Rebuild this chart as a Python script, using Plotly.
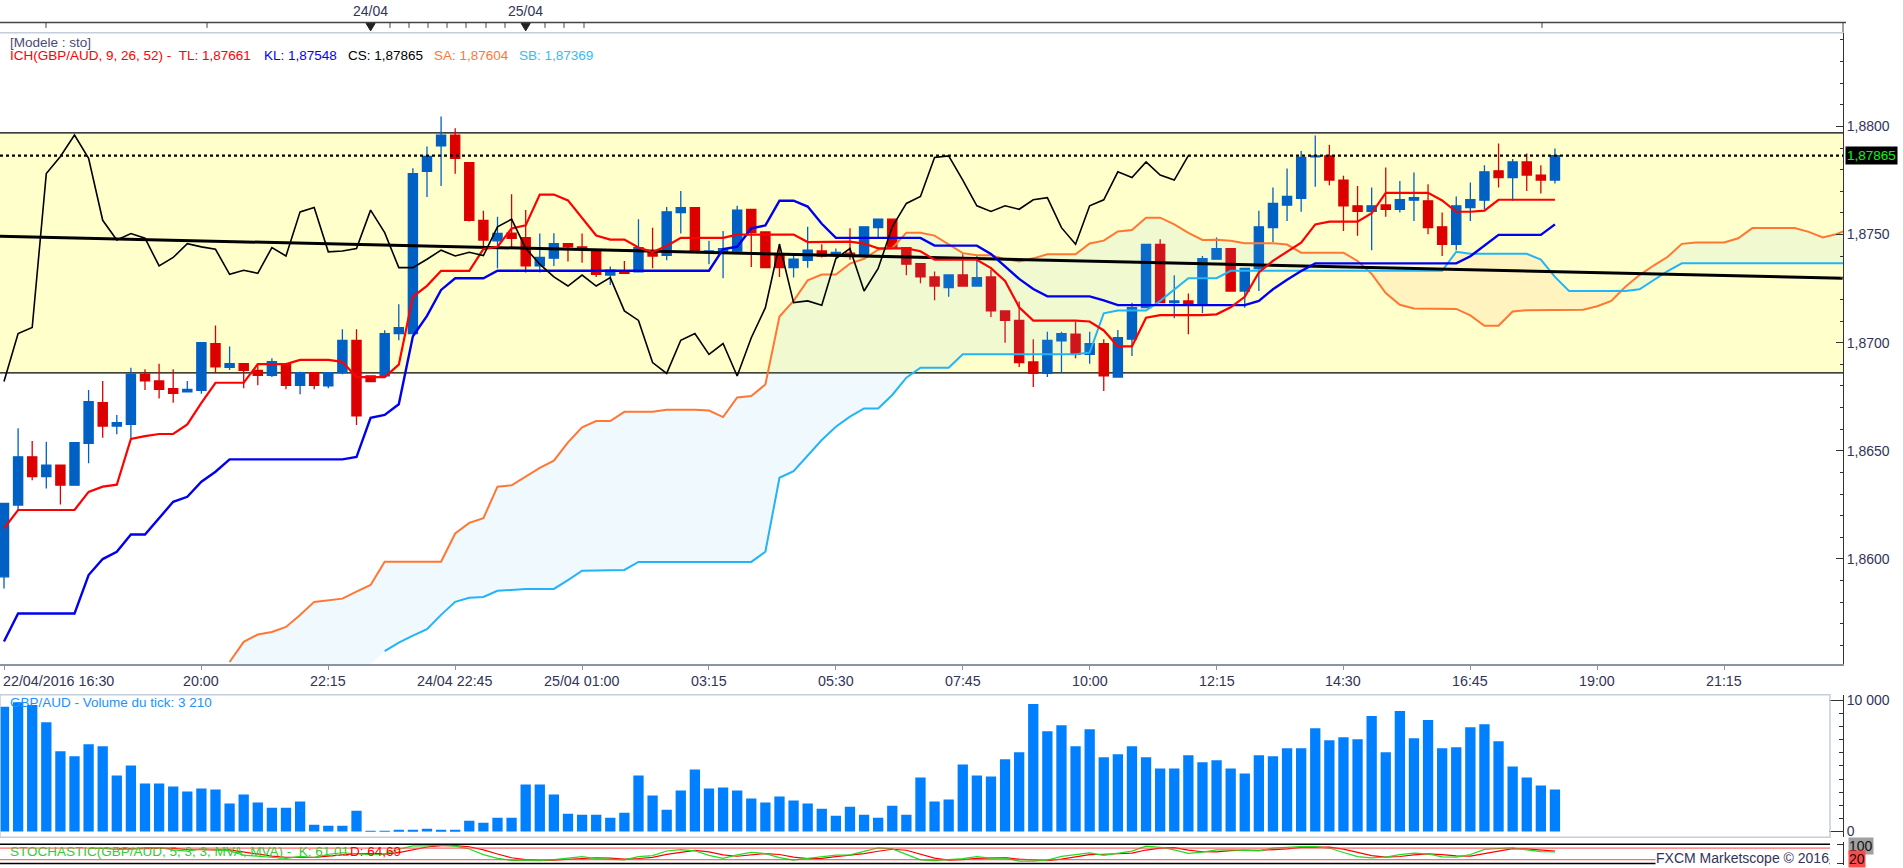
import plotly.graph_objects as go

W, H = 1903, 868

# ---------------- data ----------------
open_ = [1.85917, 1.86249, 1.86472, 1.86380, 1.86434, 1.86341, 1.86534, 1.86722, 1.86614, 1.86622,
         1.86854, 1.86823, 1.86787, 1.86772, 1.86780, 1.86996, 1.86886, 1.86903, 1.86872, 1.86849,
         1.86903, 1.86803, 1.86861, 1.86800, 1.86861, 1.87011, 1.86846, 1.86846, 1.87042, 1.87042,
         1.87792, 1.87910, 1.87960, 1.87833, 1.87566, 1.87471, 1.87506, 1.87486, 1.87355, 1.87391,
         1.87458, 1.87443, 1.87428, 1.87313, 1.87332, 1.87327, 1.87420, 1.87404, 1.87602, 1.87625,
         1.87417, 1.87420, 1.87424, 1.87616, 1.87512, 1.87409, 1.87347, 1.87381, 1.87424, 1.87412,
         1.87414, 1.87401, 1.87532, 1.87571, 1.87440, 1.87366, 1.87304, 1.87255, 1.87313, 1.87262,
         1.87304, 1.87147, 1.87103, 1.86911, 1.86858, 1.87008, 1.87039, 1.86946, 1.86996, 1.86841,
         1.87016, 1.87162, 1.87455, 1.87185, 1.87193, 1.87173, 1.87386, 1.87435, 1.87239, 1.87343,
         1.87532, 1.87636, 1.87667, 1.87860, 1.87864, 1.87752, 1.87633, 1.87607, 1.87637, 1.87617,
         1.87659, 1.87656, 1.87536, 1.87455, 1.87625, 1.87659, 1.87795, 1.87764, 1.87836, 1.87775,
         1.87752]
high_ = [1.86256, 1.86604, 1.86545, 1.86542, 1.86434, 1.86537, 1.86781, 1.86823, 1.86665, 1.86884,
         1.86877, 1.86903, 1.86877, 1.86823, 1.87000, 1.87079, 1.86982, 1.86903, 1.86897, 1.86928,
         1.86903, 1.86866, 1.86861, 1.86861, 1.87062, 1.87062, 1.86846, 1.87057, 1.87178, 1.87807,
         1.87907, 1.88046, 1.87992, 1.87833, 1.87610, 1.87582, 1.87687, 1.87614, 1.87505, 1.87506,
         1.87458, 1.87505, 1.87428, 1.87352, 1.87378, 1.87571, 1.87532, 1.87628, 1.87702, 1.87625,
         1.87471, 1.87517, 1.87633, 1.87616, 1.87512, 1.87458, 1.87409, 1.87536, 1.87455, 1.87435,
         1.87529, 1.87536, 1.87571, 1.87571, 1.87440, 1.87366, 1.87329, 1.87313, 1.87409, 1.87401,
         1.87337, 1.87147, 1.87190, 1.87016, 1.87051, 1.87051, 1.87097, 1.87051, 1.87016, 1.87059,
         1.87185, 1.87455, 1.87478, 1.87312, 1.87227, 1.87401, 1.87486, 1.87435, 1.87343, 1.87610,
         1.87718, 1.87806, 1.87887, 1.87958, 1.87915, 1.87772, 1.87725, 1.87718, 1.87810, 1.87748,
         1.87787, 1.87733, 1.87602, 1.87676, 1.87741, 1.87821, 1.87921, 1.87849, 1.87875, 1.87821,
         1.87898]
low_ = [1.85863, 1.86226, 1.86364, 1.86326, 1.86252, 1.86341, 1.86442, 1.86560, 1.86576, 1.86550,
        1.86781, 1.86742, 1.86722, 1.86769, 1.86764, 1.86858, 1.86874, 1.86789, 1.86803, 1.86841,
        1.86784, 1.86761, 1.86784, 1.86789, 1.86854, 1.86619, 1.86820, 1.86841, 1.87011, 1.87039,
        1.87674, 1.87725, 1.87781, 1.87560, 1.87440, 1.87344, 1.87440, 1.87324, 1.87324, 1.87355,
        1.87375, 1.87370, 1.87304, 1.87267, 1.87321, 1.87327, 1.87344, 1.87381, 1.87505, 1.87420,
        1.87363, 1.87298, 1.87421, 1.87350, 1.87344, 1.87304, 1.87301, 1.87347, 1.87394, 1.87394,
        1.87383, 1.87401, 1.87486, 1.87437, 1.87312, 1.87275, 1.87196, 1.87212, 1.87262, 1.87262,
        1.87119, 1.87000, 1.86888, 1.86795, 1.86841, 1.86858, 1.86928, 1.86903, 1.86776, 1.86841,
        1.86938, 1.87159, 1.87185, 1.87113, 1.87039, 1.87136, 1.87386, 1.87239, 1.87162, 1.87239,
        1.87466, 1.87563, 1.87605, 1.87721, 1.87728, 1.87517, 1.87494, 1.87428, 1.87582, 1.87602,
        1.87563, 1.87502, 1.87401, 1.87428, 1.87563, 1.87617, 1.87718, 1.87656, 1.87702, 1.87690,
        1.87736]
close_ = [1.86256, 1.86472, 1.86380, 1.86434, 1.86341, 1.86537, 1.86727, 1.86614, 1.86630, 1.86854,
          1.86823, 1.86784, 1.86766, 1.86784, 1.87000, 1.86888, 1.86903, 1.86872, 1.86849, 1.86912,
          1.86803, 1.86861, 1.86803, 1.86861, 1.87011, 1.86661, 1.86820, 1.87042, 1.87070, 1.87782,
          1.87861, 1.87960, 1.87853, 1.87566, 1.87475, 1.87505, 1.87483, 1.87355, 1.87394, 1.87458,
          1.87443, 1.87432, 1.87316, 1.87335, 1.87321, 1.87440, 1.87401, 1.87605, 1.87625, 1.87420,
          1.87424, 1.87435, 1.87613, 1.87509, 1.87347, 1.87347, 1.87386, 1.87428, 1.87401, 1.87418,
          1.87403, 1.87536, 1.87571, 1.87437, 1.87363, 1.87304, 1.87262, 1.87313, 1.87262, 1.87301,
          1.87147, 1.87103, 1.86908, 1.86858, 1.87011, 1.87042, 1.86946, 1.86996, 1.86846, 1.87023,
          1.87162, 1.87455, 1.87185, 1.87193, 1.87173, 1.87389, 1.87435, 1.87239, 1.87343, 1.87536,
          1.87644, 1.87676, 1.87857, 1.87864, 1.87752, 1.87633, 1.87607, 1.87633, 1.87617, 1.87661,
          1.87671, 1.87532, 1.87455, 1.87633, 1.87661, 1.87790, 1.87764, 1.87836, 1.87775, 1.87752,
          1.87865]
tick_volume = [9523, 9856, 9651, 8346, 6118, 5734, 6656, 6502, 4275, 5043,
               3661, 3661, 3430, 3046, 3277, 3200, 2125, 2816, 2202, 1818,
               1818, 2278, 512, 435, 435, 1587, 50, 50, 80, 80,
               205, 60, 60, 819, 666, 1050, 1050, 3584, 3584, 2816,
               1357, 1280, 1280, 1050, 1434, 4275, 2739, 1664, 3123, 4736,
               3277, 3354, 3123, 2509, 2202, 2662, 2355, 2125, 1741, 1203,
               1894, 1280, 1050, 1971, 1280, 4122, 2278, 2432, 5120, 4275,
               4198, 5504, 6042, 9728, 7654, 8115, 6502, 7808, 5658, 5888,
               6502, 5658, 4813, 4813, 5811, 5274, 5427, 4813, 4429, 5811,
               5734, 6349, 6349, 7885, 6963, 7194, 7040, 8806, 6042, 9190,
               7117, 8499, 6349, 6426, 7962, 8192, 6886, 4966, 4122, 3507,
               3210]

# Ichimoku values whose look-back window starts before the visible data
tenkan_first = [1.86141, 1.86226, 1.86226, 1.86226, 1.86226, 1.86226, 1.86310, 1.86334]          # idx 0..7
kijun_first = [1.85618, 1.85747, 1.85747, 1.85747, 1.85747, 1.85747, 1.85925, 1.85999, 1.86033,
               1.86113, 1.86113, 1.86187, 1.86264, 1.86287, 1.86357, 1.86403, 1.86460, 1.86460,
               1.86460, 1.86460, 1.86460, 1.86460, 1.86460, 1.86460, 1.86460]                     # idx 0..24
senkou_a_first = [1.85523, 1.85616, 1.85650, 1.85662, 1.85685, 1.85740, 1.85801, 1.85809,
                  1.85816, 1.85848]                                                               # idx 16..25
senkou_b_first = [1.85573, 1.85613, 1.85645, 1.85675, 1.85741, 1.85801, 1.85820, 1.85824, 1.85852, 1.85858,
                  1.85861, 1.85861, 1.85861, 1.85902, 1.85945, 1.85946, 1.85948, 1.85949, 1.85986, 1.85986,
                  1.85986, 1.85986, 1.85986, 1.85986, 1.85986, 1.85986, 1.85986, 1.86033, 1.86375, 1.86406,
                  1.86480, 1.86550, 1.86611, 1.86658, 1.86696, 1.86696, 1.86758, 1.86838, 1.86884, 1.86884,
                  1.86884, 1.86946, 1.86946, 1.86946, 1.86946, 1.86946, 1.86946, 1.86946, 1.86946, 1.86946]  # idx 27..76
SA_FIRST_IDX, SB_FIRST_IDX = 16, 27

trend_x = [-0.3, 130.4]
trend_y = [1.87492, 1.87298]
zone_top, zone_bottom = 1.8797, 1.8686
last_price = 1.87865

time_tick_idx = [0, 14, 23, 32, 41, 50, 59, 68, 77, 86, 95, 104, 113, 122]
time_tick_text = ["22/04/2016 16:30", "20:00", "22:15", "24/04 22:45", "25/04 01:00", "03:15", "05:30",
                  "07:45", "10:00", "12:15", "14:30", "16:45", "19:00", "21:15"]
day_idx = [26, 37]
day_text = ["24/04", "25/04"]

legend_texts = ["ICH(GBP/AUD, 9, 26, 52) -\u00a0\u00a0TL: 1,87661", "KL: 1,87548", "CS: 1,87865",
                "SA: 1,87604", "SB: 1,87369"]
volume_title = "GBP/AUD - Volume du tick: 3 210"
stoch_k_text = "STOCHASTIC(GBP/AUD, 5, 3, 3, MVA, MVA) -\u00a0\u00a0K: 61,01"
stoch_d_text = "D: 64,69"

# ---------------- indicator computation ----------------
n = len(close_)
SHIFT = 26


def midpoint(i, period):
    lo = i - period + 1
    return (max(high_[lo:i + 1]) + min(low_[lo:i + 1])) / 2


tenkan = [tenkan_first[i] if i < 8 else midpoint(i, 9) for i in range(n)]
kijun = [kijun_first[i] if i < 25 else midpoint(i, 26) for i in range(n)]
sa_x = list(range(SA_FIRST_IDX, n + SHIFT))
senkou_a = senkou_a_first + [(tenkan[j - SHIFT] + kijun[j - SHIFT]) / 2 for j in range(SHIFT, n + SHIFT)]
sb_x = list(range(SB_FIRST_IDX, n + SHIFT))
senkou_b = senkou_b_first + [midpoint(j - SHIFT, 52) for j in range(77, n + SHIFT)]
cs_x = list(range(0, n - SHIFT))
chikou = close_[SHIFT:]

raw = [None] * n
for i in range(4, n):
    hh, ll = max(high_[i - 4:i + 1]), min(low_[i - 4:i + 1])
    raw[i] = 100 * (close_[i] - ll) / (hh - ll)
stoch_k = [None] * n
for i in range(6, n):
    stoch_k[i] = sum(raw[i - 2:i + 1]) / 3
stoch_d = [None] * n
for i in range(8, n):
    stoch_d[i] = sum(stoch_k[i - 2:i + 1]) / 3

# ---------------- layout helpers ----------------
X_LO, X_HI = -0.284, 130.43
Y_LO, Y_HI = 1.85514, 1.88433
XD = 1843 / W


def px(x):
    return x / W


def py(y):
    return 1 - y / H


idx = list(range(n))
fig = go.Figure()

# cloud fills
sb_map = dict(zip(sb_x, senkou_b))
base = [sb_map.get(j, Y_LO) for j in sa_x]
bull_top = [max(a, b) for a, b in zip(senkou_a, base)]
bear_top = [max(a, sb_map[j]) if j in sb_map else a for a, j in zip(senkou_a, sa_x)]
fig.add_trace(go.Scatter(x=sa_x, y=base, mode="lines", line=dict(width=0), hoverinfo="skip"))
fig.add_trace(go.Scatter(x=sa_x, y=bull_top, mode="lines", line=dict(width=0), fill="tonexty",
                         fillcolor="rgba(120,200,245,0.11)", hoverinfo="skip"))
fig.add_trace(go.Scatter(x=sa_x, y=senkou_a, mode="lines", line=dict(width=0), hoverinfo="skip"))
fig.add_trace(go.Scatter(x=sa_x, y=bear_top, mode="lines", line=dict(width=0), fill="tonexty",
                         fillcolor="rgba(255,150,80,0.10)", hoverinfo="skip"))

# ichimoku lines
fig.add_trace(go.Scatter(x=sa_x, y=senkou_a, mode="lines", line=dict(color="#FF7733", width=2)))
fig.add_trace(go.Scatter(x=sb_x, y=senkou_b, mode="lines", line=dict(color="#22B4F5", width=2)))
fig.add_trace(go.Scatter(x=trend_x, y=trend_y, mode="lines", line=dict(color="black", width=3)))
fig.add_trace(go.Scatter(x=idx, y=kijun, mode="lines", line=dict(color="#0000F0", width=2.4)))
fig.add_trace(go.Scatter(x=idx, y=tenkan, mode="lines", line=dict(color="#FF0000", width=2.2)))
fig.add_trace(go.Scatter(x=cs_x, y=chikou, mode="lines", line=dict(color="black", width=1.6)))
fig.add_trace(go.Scatter(x=[X_LO, X_HI], y=[last_price, last_price], mode="lines",
                         line=dict(color="black", width=2.2, dash="dot")))

# candles
fig.add_trace(go.Candlestick(
    x=idx, open=open_, high=high_, low=low_, close=close_,
    increasing=dict(line=dict(color="#0060C4", width=1.3), fillcolor="#0060C4"),
    decreasing=dict(line=dict(color="#DD0000", width=1.3), fillcolor="#DD0000"),
    whiskerwidth=0, hoverinfo="skip"))

# volume
fig.add_trace(go.Bar(x=idx, y=tick_volume, marker=dict(color="#0080FF", line=dict(width=0)),
                     xaxis="x2", yaxis="y2"))

# stochastic
fig.add_trace(go.Scatter(x=idx, y=stoch_d, mode="lines", line=dict(color="#FF0000", width=1.2),
                         xaxis="x3", yaxis="y3"))
fig.add_trace(go.Scatter(x=idx, y=stoch_k, mode="lines", line=dict(color="#22DD22", width=1.2),
                         xaxis="x3", yaxis="y3"))

shapes = [
    dict(type="rect", xref="paper", yref="y", x0=0, x1=XD, y0=zone_bottom, y1=zone_top,
         fillcolor="#FFFFCC", line=dict(width=0), layer="below"),
    dict(type="line", xref="paper", yref="y", x0=0, x1=XD, y0=zone_top, y1=zone_top,
         line=dict(color="black", width=1.3), layer="below"),
    dict(type="line", xref="paper", yref="y", x0=0, x1=XD, y0=zone_bottom, y1=zone_bottom,
         line=dict(color="black", width=1.3), layer="below"),
    # top time strip
    dict(type="line", xref="paper", yref="paper", x0=0, x1=px(1846), y0=py(20.5), y1=py(20.5),
         line=dict(color="#444444", width=1.5)),
    dict(type="line", xref="paper", yref="paper", x0=XD, x1=XD, y0=py(20.5), y1=py(31),
         line=dict(color="#444444", width=1)),
    # main panel top border
    dict(type="line", xref="paper", yref="paper", x0=0, x1=XD, y0=py(31), y1=py(31),
         line=dict(color="#C4CEDB", width=1.5)),
    # volume frame
    dict(type="rect", xref="paper", yref="paper", x0=0, x1=px(1830), y0=py(839), y1=py(696),
         line=dict(color="#C4CEDB", width=1.5)),
    # stochastic levels
    dict(type="line", xref="paper", yref="y3", x0=0, x1=px(1830), y0=100, y1=100,
         line=dict(color="black", width=1.5)),
    dict(type="line", xref="paper", yref="y3", x0=0, x1=px(1830), y0=0, y1=0,
         line=dict(color="black", width=1.5)),
    dict(type="line", xref="paper", yref="y3", x0=0, x1=px(1830), y0=80, y1=80,
         line=dict(color="#FF4444", width=1)),
    dict(type="line", xref="paper", yref="y3", x0=0, x1=px(1830), y0=20, y1=20,
         line=dict(color="#FF4444", width=1)),
]
for tx in [46, 207, 390, 409, 428, 447, 466, 486, 505, 545, 564, 584, 1542]:
    shapes.append(dict(type="line", xref="paper", yref="paper", x0=px(tx), x1=px(tx),
                       y0=py(20.5), y1=py(26), line=dict(color="#444444", width=1)))
for d in day_idx:
    shapes.append(dict(type="path", xref="x", yref="paper",
                       path=f"M {d - 0.32},{py(21.5)} L {d + 0.32},{py(21.5)} L {d},{py(29)} Z",
                       fillcolor="#222222", line=dict(color="#222222", width=1)))

ann = []
for t, v in zip(time_tick_text, time_tick_idx):
    ann.append(dict(x=v if v > 0 else px(1), xref="x" if v > 0 else "paper", y=py(682), yref="paper",
                    text=t, showarrow=False, xanchor="center" if v > 0 else "left", yanchor="middle",
                    font=dict(size=14.3, color="#33335A")))
for t, v in zip(day_text, day_idx):
    ann.append(dict(x=v, xref="x", y=py(9.5), yref="paper", text=t, showarrow=False,
                    xanchor="center", yanchor="middle", font=dict(size=14, color="#33335A")))
ann.append(dict(x=px(8), y=py(40.5), xref="paper", yref="paper", text="[Modele : sto]", showarrow=False,
                xanchor="left", yanchor="middle", font=dict(size=13.5, color="#4B4B6E")))
legend_x = [8, 262, 346, 432, 517]
legend_colors = ["#FF0000", "#0000FF", "#000000", "#FF7733", "#33BBFF"]
for t, x, c in zip(legend_texts, legend_x, legend_colors):
    ann.append(dict(x=px(x), y=py(54), xref="paper", yref="paper", text=t, showarrow=False,
                    xanchor="left", yanchor="middle", font=dict(size=13.5, color=c)))
ann.append(dict(x=px(1845), y=last_price, xref="paper", yref="y",
                text=f"{last_price:.5f}".replace(".", ","), showarrow=False, xanchor="left",
                yanchor="middle", bgcolor="black", borderpad=1, font=dict(size=13.5, color="#00FF00")))
ann.append(dict(x=px(8), y=py(704), xref="paper", yref="paper", text=volume_title, showarrow=False,
                xanchor="left", yanchor="middle", font=dict(size=13.5, color="#1E90FF")))
ann.append(dict(x=px(8), y=py(853), xref="paper", yref="paper", text=stoch_k_text, showarrow=False,
                xanchor="left", yanchor="middle", font=dict(size=13.5, color="#33CC33")))
ann.append(dict(x=px(348), y=py(853), xref="paper", yref="paper", text=stoch_d_text, showarrow=False,
                xanchor="left", yanchor="middle", font=dict(size=13.5, color="#FF0000")))
ann.append(dict(x=px(1830), y=py(860), xref="paper", yref="paper", text="FXCM Marketscope © 2016",
                showarrow=False, xanchor="right", yanchor="middle", bgcolor="white", borderpad=0,
                font=dict(size=14, color="#33335A")))
ann.append(dict(x=px(1848), y=py(847.5), xref="paper", yref="paper", text="100", showarrow=False,
                xanchor="left", yanchor="middle", bgcolor="#A0A0A0", borderpad=0,
                font=dict(size=14, color="#111111")))
ann.append(dict(x=px(1848), y=py(861), xref="paper", yref="paper", text="20", showarrow=False,
                xanchor="left", yanchor="middle", bgcolor="#FF4A4A", borderpad=0,
                font=dict(size=14, color="#111111")))

axis_common = dict(showgrid=False, zeroline=False)
fig.update_layout(
    width=W, height=H, margin=dict(l=0, r=0, t=0, b=0),
    paper_bgcolor="white", plot_bgcolor="white",
    showlegend=False, hovermode=False, separators=", ",
    font=dict(family="Liberation Sans, Arial, sans-serif", size=14, color="#33335A"),
    boxgap=0.35, boxgroupgap=0, bargap=0.27,
    shapes=shapes, annotations=ann,
    xaxis=dict(domain=[0, XD], range=[X_LO, X_HI], anchor="y", tickmode="array",
               tickvals=time_tick_idx, ticktext=[""] * len(time_tick_idx), ticks="outside", ticklen=4,
               tickcolor="#8A94A6", showline=True, linecolor="#8A94A6", linewidth=1.5,
               rangeslider=dict(visible=False), **axis_common),
    xaxis2=dict(domain=[0, XD], range=[X_LO, X_HI], anchor="y2", visible=False, **axis_common),
    xaxis3=dict(domain=[0, XD], range=[X_LO, X_HI], anchor="y3", visible=False, **axis_common),
    yaxis=dict(domain=[py(665), py(31)], range=[Y_LO, Y_HI], side="right", anchor="x",
               tickformat=".4f", dtick=0.005, tick0=1.86, ticks="inside", ticklen=7, tickcolor="#333333",
               showline=True, linecolor="#333333", linewidth=1,
               minor=dict(dtick=0.001, ticks="inside", ticklen=3, tickcolor="#333333"),
               tickfont=dict(size=14, color="#33335A"), **axis_common),
    yaxis2=dict(domain=[py(839), py(696)], range=[-433, 10433], side="right", anchor="x2",
                tickformat=",d", dtick=10000, tick0=0, ticks="inside", ticklen=14, tickcolor="#333333",
                showline=True, linecolor="#333333", linewidth=1,
                minor=dict(dtick=1000, ticks="inside", ticklen=4, tickcolor="#333333"),
                tickfont=dict(size=14, color="#33335A"), **axis_common),
    yaxis3=dict(domain=[py(867), py(844)], range=[-7.2, 110.8], side="right", anchor="x3",
                tickmode="array", tickvals=[0, 100], ticktext=["", ""], ticks="inside", ticklen=6,
                tickcolor="#333333", showline=True, linecolor="#333333", linewidth=1,
                **axis_common),
)

page_fix = ("document.documentElement.style.overflow='hidden';"
            "document.documentElement.style.height='868px';"
            "document.body.style.margin='0px';"
            "document.body.style.overflow='hidden';"
            "document.body.style.height='868px';")
fig.write_html("out.html", config={"displayModeBar": False}, post_script=page_fix)
